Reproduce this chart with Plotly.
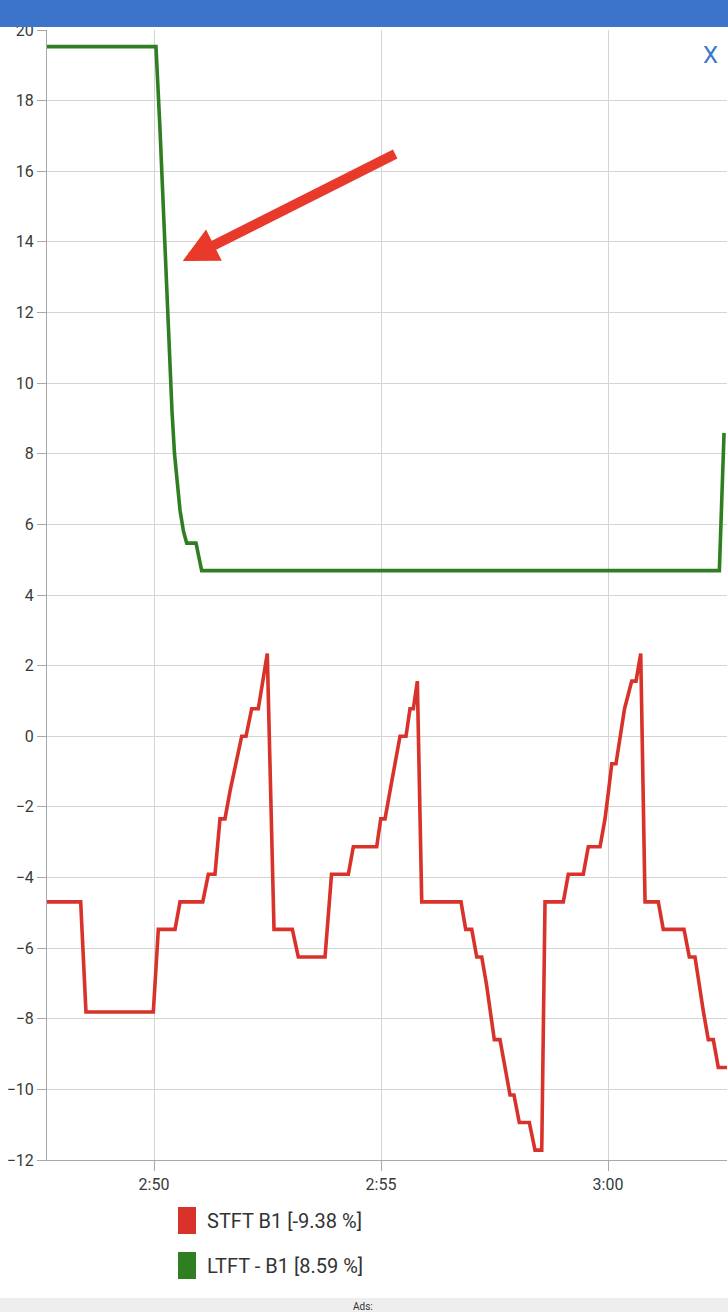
import plotly.graph_objects as go

# time in seconds relative to 2:50:00
stft_t = [-141.4, -96.9, -89.9, -0.9, 5.7, 27.8, 34.4, 64.4, 71.8, 80.6, 87.2, 93.8,
          100.4, 108.4, 115.9, 121.6, 129.1, 137.8, 144.0, 149.7, 158.6, 182.8, 190.7,
          226.0, 234.6, 256.8, 263.4, 294.3, 299.6, 305.3, 311.8, 318.5, 325.1, 333.0,
          338.3, 342.7, 348.0, 353.8, 405.7, 411.9, 419.9, 426.5, 433.1, 439.4, 444.7,
          449.7, 457.2, 463.8, 470.5, 475.7, 482.7, 496.0, 503.5, 512.4, 516.7, 540.9,
          547.5, 567.3, 573.9, 589.4, 596.0, 600.6, 604.9, 610.5, 615.8, 621.8, 631.3,
          637.0, 643.2, 648.9, 666.4, 673.0, 700.4, 707.4, 714.9, 720.2, 726.1, 732.5,
          739.1, 745.7, 757.2]
stft_v = [-4.69, -4.69, -7.81, -7.81, -5.47, -5.47, -4.69, -4.69, -3.91, -3.91, -2.34, -2.34,
          -1.56, -0.78, 0.0, 0.0, 0.78, 0.78, 1.56, 2.34, -5.47, -5.47, -6.25,
          -6.25, -3.91, -3.91, -3.13, -3.13, -2.34, -2.34, -1.56, -0.78, 0.0, 0.0,
          0.78, 0.78, 1.56, -4.69, -4.69, -5.47, -5.47, -6.25, -6.25, -7.03, -7.81,
          -8.59, -8.59, -9.38, -10.16, -10.16, -10.94, -10.94, -11.72, -11.72, -4.69, -4.69,
          -3.91, -3.91, -3.13, -3.13, -2.34, -1.56, -0.78, -0.78, 0.0, 0.78, 1.56,
          1.56, 2.34, -4.69, -4.69, -5.47, -5.47, -6.25, -6.25, -7.03, -7.81, -8.59,
          -8.59, -9.38, -9.38]

ltft_t = [-141.4, 2.6, 7.9, 13.2, 17.2, 21.1, 23.8, 27.1, 31.1, 34.4, 39.0, 43.2,
          55.5, 63.0, 747.1, 753.3]
ltft_v = [19.53, 19.53, 17.2, 14.4, 12.4, 10.3, 9.2, 8.0, 7.1, 6.4, 5.8, 5.47,
          5.47, 4.69, 4.69, 8.59]

series_names = ["STFT B1 [-9.38 %]", "LTFT - B1 [8.59 %]"]
series_colors = ["#d9322a", "#2f7f22"]

x_tick_vals = [0, 300, 600]
x_tick_text = ["2:50", "2:55", "3:00"]
y_tick_vals = list(range(-12, 21, 2))

FONT = "Roboto"

fig = go.Figure()
fig.add_trace(go.Scatter(x=stft_t, y=stft_v, mode="lines", name=series_names[0],
                         line=dict(color=series_colors[0], width=3.6), showlegend=False))
fig.add_trace(go.Scatter(x=ltft_t, y=ltft_v, mode="lines", name=series_names[1],
                         line=dict(color=series_colors[1], width=3.6), showlegend=False))

W, H = 728, 1312
ml, mr, mt, mb = 47, 1, 30, 152
pw, ph = W - ml - mr, H - mt - mb


def px_x(p):
    return (p - ml) / pw


def px_y(p):
    return (H - mb - p) / ph


shapes = [
    # top app bar
    dict(type="rect", xref="paper", yref="paper", x0=px_x(0), x1=px_x(W), y0=px_y(27), y1=px_y(0),
         fillcolor="#3b74c9", line=dict(width=0), layer="above"),
    # bottom ads bar
    dict(type="rect", xref="paper", yref="paper", x0=px_x(0), x1=px_x(W), y0=px_y(H), y1=px_y(1298),
         fillcolor="#eeeeee", line=dict(width=0), layer="above"),
]
annotations = [
    dict(text="X", xref="paper", yref="paper", x=px_x(710), y=px_y(55), showarrow=False,
         font=dict(family=FONT, size=24, color="#3a78cc"), xanchor="center", yanchor="middle"),
    dict(text="Ads:", xref="paper", yref="paper", x=px_x(363), y=px_y(1299), showarrow=False,
         font=dict(family=FONT, size=10, color="#333333"), xanchor="center", yanchor="top"),
    # red arrow
    dict(text="", x=37.9, y=13.46, ax=320.7, ay=16.51, xref="x", yref="y", axref="x", ayref="y",
         showarrow=True, arrowhead=2, arrowwidth=10, arrowsize=0.7, arrowcolor="#e8392a"),
]

# legend (square swatches + text)
for i, (name, col) in enumerate(zip(series_names, series_colors)):
    top = 1207 + i * 45
    shapes.append(dict(type="rect", xref="paper", yref="paper", x0=px_x(178), x1=px_x(196),
                       y0=px_y(top + 27), y1=px_y(top), fillcolor=col, line=dict(width=0)))
    annotations.append(dict(text=name, xref="paper", yref="paper", x=px_x(205), y=px_y(top + 14),
                            showarrow=False, xanchor="left", yanchor="middle",
                            font=dict(family=FONT, size=20, color="#333333")))

fig.update_layout(
    width=W, height=H, autosize=False,
    margin=dict(l=ml, r=mr, t=mt, b=mb, pad=0),
    paper_bgcolor="white", plot_bgcolor="white",
    showlegend=False,
    shapes=shapes, annotations=annotations,
    xaxis=dict(range=[-141.4, 757.2], tickvals=x_tick_vals, ticktext=x_tick_text,
               showgrid=True, gridcolor="#d4d4d4", gridwidth=1, zeroline=False,
               showline=True, linecolor="#a8a8a8", linewidth=1,
               ticks="outside", ticklen=10, tickcolor="#a8a8a8",
               tickfont=dict(family=FONT, size=16, color="#3a3a3a")),
    yaxis=dict(range=[-12, 20], tickvals=y_tick_vals,
               showgrid=True, gridcolor="#d4d4d4", gridwidth=1, zeroline=False,
               showline=True, linecolor="#a8a8a8", linewidth=1,
               ticks="outside", ticklen=9, tickcolor="#a8a8a8",
               tickfont=dict(family=FONT, size=16, color="#3a3a3a")),
)

fig.write_html("out.html", config={"displayModeBar": False},
               post_script="document.body.style.margin='0';document.body.style.overflow='hidden';")
